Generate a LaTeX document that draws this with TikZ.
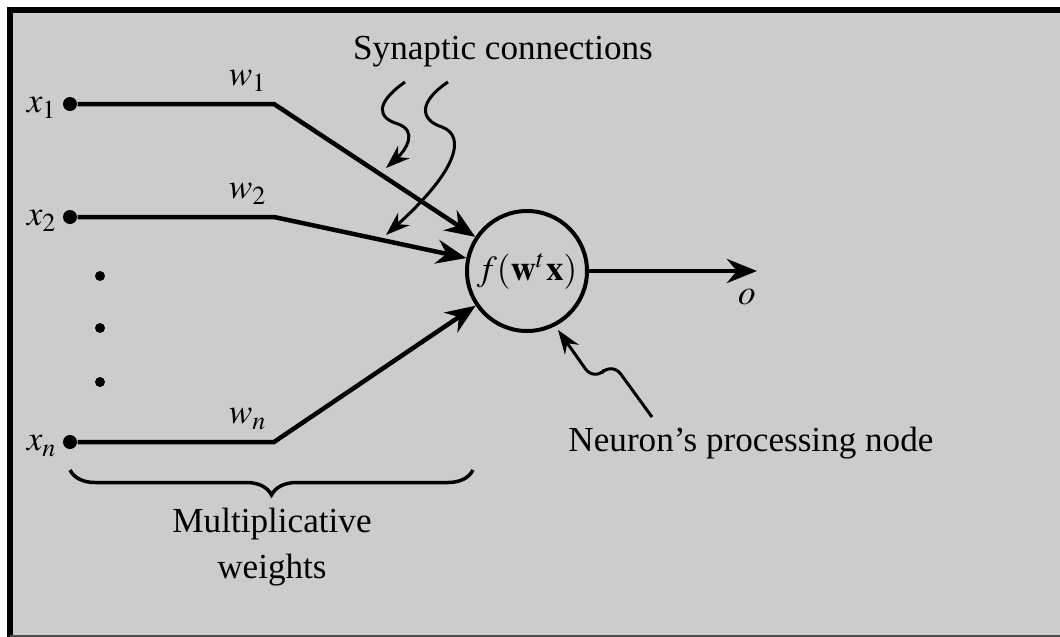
\documentclass[tikz,border=0pt]{standalone}
\usepackage{mathptmx}
\usepackage{fontspec}
\setmainfont{Liberation Serif}
\usepackage{xcolor}
\usetikzlibrary{arrows.meta}
\usetikzlibrary{decorations.pathreplacing, math}
\definecolor{pgray}{RGB}{204,204,204}

\begin{document}
\begin{tikzpicture}[x=0.1mm, y=-0.1mm,
  wire/.style={line width=0.45mm},
  tip/.style={-{Stealth[length=3mm,width=2.4mm]}},
  wiggle/.style={line width=0.3mm, -{Stealth[length=2.4mm,width=1.7mm]}},
  pin/.style={circle, fill, inner sep=0pt, minimum size=1.4mm},
  dot/.style={circle, fill, inner sep=0pt, minimum size=1mm}]
\tikzmath{
\xin=70;
\xb=274;
\ya=104;
\yb=217;
\yn=442;
}
\useasboundingbox (0,0) rectangle (1060,637);

%frame:
 \fill[pgray] (10,10) rectangle (1060,635);
 \draw[line width=0.6mm] (10,640) -- (10,10) -- (1065,10);
 \draw[line width=0.25mm, black!70] (10,636) -- (1065,636);

%neuron:
 \node[circle, draw, line width=0.4mm, minimum size=12mm, inner sep=0pt] (nrn) at (527,271) {$f(\mathbf{w}^t\mathbf{x})$};

%inputs:
 \foreach \i/\y/\s in {1/\ya/1, 2/\yb/2, n/\yn/n}{
  \node[pin] (x\i) at (\xin,\y) {};
  \coordinate (b\i) at (\xb,\y);
  \node (lx\i) at (42,\y+4) {$x_\s$};
  \node (lw\i) at (248,\y-23) {$w_\s$};
  \draw[wire, tip] (x\i) -- (b\i) -- (nrn);
 }
 \foreach \j/\y in {1/276, 2/328, 3/382}
  \node[dot] (v\j) at (100,\y) {};

%output:
 \coordinate (out) at (757,271);
 \draw[wire, tip] (nrn) -- (out);
 \node (lo) at (747,297) {$o$};

%weights brace
 \coordinate (bl) at (70,470);
 \coordinate (br) at (473,470);
 \draw[line width=0.35mm, decorate, decoration={brace, mirror, amplitude=2.5mm}] (bl) -- (br);
 \node[align=center] (mw) at (272,547) {Multiplicative\\[1.3pt]weights};

%labels with wiggly arrows
 \node (syn) at (503,52) {Synaptic connections};
 \coordinate (s1) at (405,82);
 \coordinate (e1) at (386,168);
 \draw[wiggle] (s1) .. controls (374,104) and (378,118) .. (398,124) .. controls (418,131) and (406,150) .. (e1);
 \coordinate (s2) at (448,82);
 \coordinate (e2) at (386,235);
 \draw[wiggle] (s2) .. controls (418,102) and (420,120) .. (442,127) .. controls (466,136) and (458,170) .. (e2);

 \node (proc) at (751,443) {Neuron’s processing node};
 \coordinate (s3) at (652,417);
 \coordinate (e3) at (558,330);
 \draw[wiggle, rounded corners=1.5mm] (s3) -- (612,362) -- (594,381) -- (e3);
\end{tikzpicture}
\end{document}
